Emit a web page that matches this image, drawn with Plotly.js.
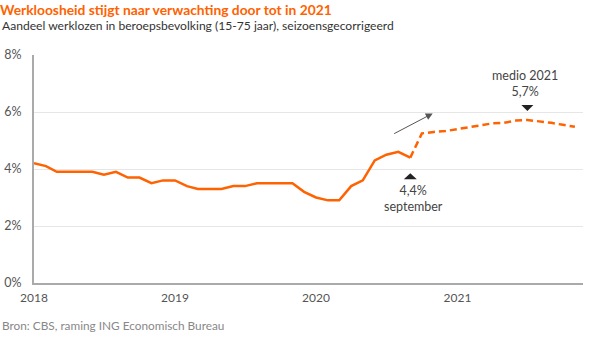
<!DOCTYPE html>
<html>
<head>
<meta charset="utf-8">
<script src="https://cdn.plot.ly/plotly-3.0.1.min.js"></script>
<style>html,body{margin:0;padding:0;background:#fff;}#chart{width:600px;height:341px;}</style>
</head>
<body>
<div id="chart"></div>
<script>
// Realised unemployment (%), monthly, Jan 2018 - Sep 2020
const actualDates = [
  '2018-01-01','2018-02-01','2018-03-01','2018-04-01','2018-05-01','2018-06-01',
  '2018-07-01','2018-08-01','2018-09-01','2018-10-01','2018-11-01','2018-12-01',
  '2019-01-01','2019-02-01','2019-03-01','2019-04-01','2019-05-01','2019-06-01',
  '2019-07-01','2019-08-01','2019-09-01','2019-10-01','2019-11-01','2019-12-01',
  '2020-01-01','2020-02-01','2020-03-01','2020-04-01','2020-05-01','2020-06-01',
  '2020-07-01','2020-08-01','2020-09-01'
];
const actualValues = [
  4.2, 4.1, 3.9, 3.9, 3.9, 3.9, 3.8, 3.9, 3.7, 3.7, 3.5, 3.6,
  3.6, 3.4, 3.3, 3.3, 3.3, 3.4, 3.4, 3.5, 3.5, 3.5, 3.5, 3.2,
  3.0, 2.9, 2.9, 3.4, 3.6, 4.3, 4.5, 4.6, 4.4
];
// ING forecast (%), Sep 2020 - Nov 2021
const forecastDates = [
  '2020-09-01','2020-10-01','2020-11-01','2020-12-01',
  '2021-01-01','2021-02-01','2021-03-01','2021-04-01','2021-05-01','2021-06-01',
  '2021-07-01','2021-08-01','2021-09-01','2021-10-01','2021-11-01'
];
const forecastValues = [
  4.4, 5.25, 5.3, 5.33, 5.4, 5.47, 5.55, 5.6, 5.62, 5.7, 5.72, 5.68, 5.62, 5.55, 5.48
];
const yearTicks = ['2018-01-01','2019-01-01','2020-01-01','2021-01-01'];
const yearLabels = ['2018','2019','2020','2021'];

// Annotation anchors
const septDate = '2020-09-01';
const septLabel = '4,4%<br>september';
const midDate = '2021-07-01';
const midLabel = 'medio 2021<br>5,7%';
const arrowTip = ['2020-10-29', 5.95];

const orange = '#FF6200';
const font = 'Lato, "Open Sans", sans-serif';

const traces = [
  {x: actualDates, y: actualValues, type: 'scatter', mode: 'lines',
   line: {color: orange, width: 2.5}, hoverinfo: 'skip'},
  {x: forecastDates, y: forecastValues, type: 'scatter', mode: 'lines',
   line: {color: orange, width: 2.5, dash: '7px,4px'}, hoverinfo: 'skip'}
];

const layout = {
  width: 600, height: 341,
  margin: {l: 34, r: 17, t: 55, b: 58},
  paper_bgcolor: '#fff', plot_bgcolor: '#fff',
  showlegend: false,
  font: {family: font, color: '#555', size: 12},
  title: {
    text: '<b>Werkloosheid stijgt naar verwachting door tot in 2021</b>',
    font: {family: font, size: 13.8, color: orange},
    xref: 'container', x: 0, xanchor: 'left',
    yref: 'container', y: 1 - 10/341, yanchor: 'middle', pad: {l: 0}
  },
  xaxis: {
    type: 'date', range: ['2018-01-01', '2021-11-22'],
    tickvals: yearTicks, ticktext: yearLabels,
    showgrid: false, zeroline: false,
    showline: true, linecolor: '#aaa', linewidth: 2,
    ticks: '', tickfont: {size: 12, color: '#555'}, ticklabelstandoff: 3
  },
  yaxis: {
    range: [0, 8], dtick: 2, ticksuffix: '%',
    showgrid: true, gridcolor: '#e6e6e6', gridwidth: 1, zeroline: false,
    showline: true, linecolor: '#aaa', linewidth: 2,
    ticks: '', tickfont: {size: 12.5, color: '#555'}, ticklabelstandoff: 8
  },
  shapes: [
    {type: 'path', xref: 'x', yref: 'y', xsizemode: 'pixel', ysizemode: 'pixel',
     xanchor: septDate, yanchor: 3.64, path: 'M -6.5 0 L 6.5 0 L 0 6 Z',
     fillcolor: '#222', line: {width: 0}},
    {type: 'path', xref: 'x', yref: 'y', xsizemode: 'pixel', ysizemode: 'pixel',
     xanchor: midDate, yanchor: 6.25, path: 'M -6 0 L 6 0 L 0 -6 Z',
     fillcolor: '#222', line: {width: 0}}
  ],
  annotations: [
    {xref: 'paper', yref: 'paper', x: -34/549, xanchor: 'left', y: (283-25)/228, yanchor: 'middle',
     text: 'Aandeel werklozen in beroepsbevolking (15-75 jaar), seizoensgecorrigeerd',
     showarrow: false, font: {size: 12.1, color: '#333'}},
    {xref: 'paper', yref: 'paper', x: -34/549, xanchor: 'left', y: (283-325)/228, yanchor: 'middle',
     text: 'Bron: CBS, raming ING Economisch Bureau',
     showarrow: false, font: {size: 11.8, color: '#888'}},
    {xref: 'x', yref: 'y', x: septDate, y: 3.57, yanchor: 'top', xanchor: 'center',
     text: septLabel, showarrow: false, font: {size: 12.5, color: '#444'}, xshift: 3},
    {xref: 'x', yref: 'y', x: midDate, y: 6.4, yanchor: 'bottom', xanchor: 'center',
     text: midLabel, showarrow: false, font: {size: 12.5, color: '#444'}, xshift: -2},
    {xref: 'x', yref: 'y', x: arrowTip[0], y: arrowTip[1], text: '', showarrow: true,
     ax: -40, ay: 21, arrowhead: 2, arrowsize: 1.4, arrowwidth: 1, arrowcolor: '#555'}
  ]
};

Plotly.newPlot('chart', traces, layout, {staticPlot: true, displayModeBar: false});
</script>
</body>
</html>
